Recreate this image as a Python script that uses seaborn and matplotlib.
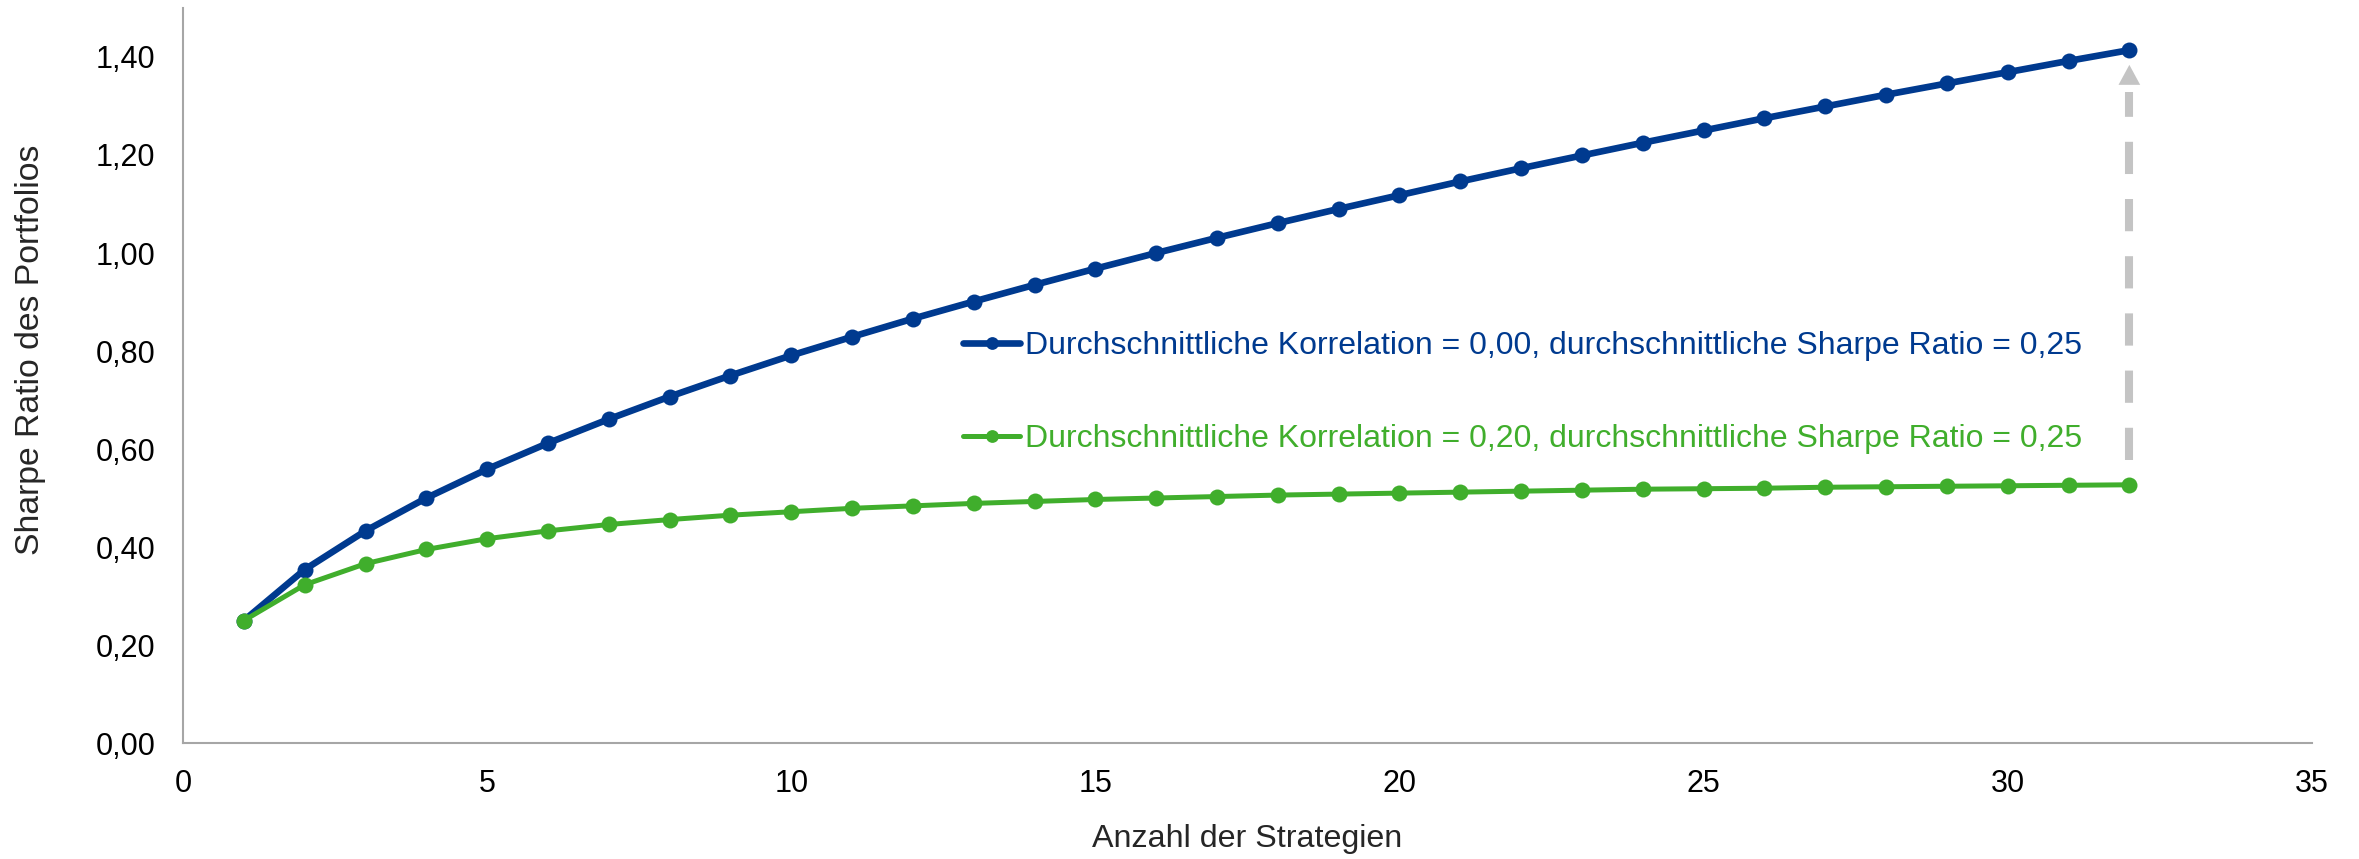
import matplotlib
matplotlib.use("Agg")
import matplotlib.pyplot as plt
import seaborn as sns
import pandas as pd
from matplotlib.ticker import FuncFormatter, MultipleLocator
from matplotlib.lines import Line2D

# Number of strategies in the portfolio
strategies = list(range(1, 33))

# Portfolio Sharpe ratio, average correlation 0.00
sharpe_corr_000 = [0.250, 0.354, 0.433, 0.500, 0.559, 0.612, 0.661, 0.707,
                   0.750, 0.791, 0.829, 0.866, 0.901, 0.935, 0.968, 1.000,
                   1.031, 1.061, 1.090, 1.118, 1.146, 1.173, 1.199, 1.225,
                   1.250, 1.275, 1.299, 1.323, 1.346, 1.369, 1.392, 1.414]

# Portfolio Sharpe ratio, average correlation 0.20
sharpe_corr_020 = [0.250, 0.323, 0.366, 0.395, 0.417, 0.433, 0.446, 0.456,
                   0.465, 0.472, 0.479, 0.484, 0.489, 0.493, 0.497, 0.500,
                   0.503, 0.506, 0.508, 0.510, 0.512, 0.514, 0.516, 0.518,
                   0.519, 0.520, 0.522, 0.523, 0.524, 0.525, 0.526, 0.527]

series_labels = [
    "Durchschnittliche Korrelation = 0,00, durchschnittliche Sharpe Ratio = 0,25",
    "Durchschnittliche Korrelation = 0,20, durchschnittliche Sharpe Ratio = 0,25",
]
x_label = "Anzahl der Strategien"
y_label = "Sharpe Ratio des Portfolios"

BLUE = "#003A8F"
GREEN = "#40AE2C"
SPINE = "#A6A6A6"
ARROW = "#C4C4C4"

sns.set_theme(style="white")
plt.rcParams["font.family"] = ["Liberation Sans", "DejaVu Sans"]

df = pd.DataFrame({
    "n": strategies * 2,
    "sr": sharpe_corr_000 + sharpe_corr_020,
    "series": [series_labels[0]] * len(strategies) + [series_labels[1]] * len(strategies),
})

fig = plt.figure(figsize=(23.59, 8.59), dpi=100)
ax = fig.add_axes([0.0776, 0.135, 0.9024, 0.8557])

MS = 11.5
styles = {series_labels[0]: (BLUE, 4.8), series_labels[1]: (GREEN, 3.6)}
for label, (color, lw) in styles.items():
    sub = df[df["series"] == label]
    sns.lineplot(data=sub, x="n", y="sr", ax=ax, color=color, linewidth=lw,
                 marker="o", markersize=MS, markeredgewidth=0, legend=False)

# Dashed gap arrow from the correlated to the uncorrelated end point
x_end = strategies[-1]
y_lo = sharpe_corr_020[-1]
y_hi = sharpe_corr_000[-1]
ax.plot([x_end, x_end], [y_lo + 0.05, y_hi - 0.085], color=ARROW,
        linewidth=5.8, dashes=(4.0, 3.1), solid_capstyle="butt",
        dash_capstyle="butt", zorder=1)
ax.annotate("", xy=(x_end, y_hi - 0.03), xytext=(x_end, y_hi - 0.08),
            arrowprops=dict(arrowstyle="-|>,head_length=1.2,head_width=0.65",
                            color=ARROW, linewidth=0, shrinkA=0, shrinkB=0),
            zorder=1)

ax.set_xlim(0, 35)
ax.set_ylim(0, 1.5)
ax.xaxis.set_major_locator(MultipleLocator(5))
ax.yaxis.set_major_locator(MultipleLocator(0.2))
ax.yaxis.set_major_formatter(FuncFormatter(
    lambda v, _: f"{v:.2f}".replace(".", ",") if v < 1.45 else ""))
ax.tick_params(axis="both", length=0, labelsize=22, colors="black")
ax.tick_params(axis="y", pad=20)
ax.tick_params(axis="x", pad=19)

for side in ["top", "right"]:
    ax.spines[side].set_visible(False)
for side in ["left", "bottom"]:
    ax.spines[side].set_color(SPINE)
    ax.spines[side].set_linewidth(1.5)

ax.set_xlabel(x_label, fontsize=23.2)
ax.xaxis.label.set_va("baseline")
ax.xaxis.set_label_coords(0.5, -0.1415)
ax.set_ylabel(y_label, fontsize=24.3)
ax.yaxis.label.set_va("center")
ax.yaxis.set_label_coords(-0.0719, 0.535)

handles = [
    Line2D([], [], color=BLUE, linewidth=4.8, marker="o", markersize=MS,
           markeredgewidth=0),
    Line2D([], [], color=GREEN, linewidth=3.6, marker="o", markersize=MS,
           markeredgewidth=0),
]
leg = ax.legend(handles, series_labels, loc="center left",
                bbox_to_anchor=(0.353, 0.477), frameon=False, fontsize=23,
                handlelength=1.78, handletextpad=0.14, labelspacing=1.98,
                markerscale=0.8)
for text, color in zip(leg.get_texts(), [BLUE, GREEN]):
    text.set_color(color)

fig.savefig("out.png", dpi=100, facecolor="white")
